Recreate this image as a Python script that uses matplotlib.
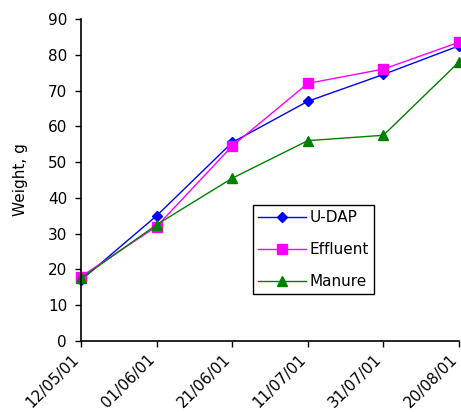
import matplotlib.pyplot as plt
from matplotlib.transforms import ScaledTranslation

plt.rcParams['font.family'] = ['DejaVu Sans']

# 采样日期与三种处理的重量
dates = ['12/05/01', '01/06/01', '21/06/01', '11/07/01', '31/07/01', '20/08/01']
udap = [17, 35, 55.5, 67, 74.5, 82.5]
effluent = [18, 32, 54.5, 72, 76, 83.5]
manure = [17.5, 32.5, 45.5, 56, 57.5, 78]

x = list(range(len(dates)))

fig = plt.figure(figsize=(4.61, 4.12), dpi=100)
ax = fig.add_axes([0.1757, 0.1723, 0.82, 0.7816])

ax.plot(x, udap, color='#0000FF', marker='D', markersize=5.5, lw=1, label='U-DAP', clip_on=False)
ax.plot(x, effluent, color='#FF00FF', marker='s', markersize=6.5, lw=1, label='Effluent', clip_on=False)
ax.plot(x, manure, color='#008000', marker='^', markersize=7, lw=1, label='Manure', clip_on=False)

ax.set_xlim(0, 5)
ax.set_ylim(0, 90)
ax.set_yticks(range(0, 91, 10))
ax.set_xticks(x)
ax.set_xticklabels(dates, rotation=45, ha='right', rotation_mode='anchor', fontsize=11)
ax.tick_params(axis='y', labelsize=11, direction='out', length=4.5, width=1, pad=5.5)
ax.tick_params(axis='x', direction='out', length=4, width=1, pad=4)
ax.set_ylabel('Weight, g', fontsize=11, labelpad=14)

# 日期标签整体左移一点
shift = ScaledTranslation(-7 / 72, 0, fig.dpi_scale_trans)
for lab in ax.get_xticklabels():
    lab.set_transform(lab.get_transform() + shift)

ax.spines['top'].set_visible(False)
ax.spines['right'].set_visible(False)
ax.spines['left'].set_linewidth(1.2)
ax.spines['bottom'].set_linewidth(1.2)

# 图例框放在图中部偏右
leg = ax.legend(loc='upper left', bbox_to_anchor=(253 / 461, 1 - 205 / 412),
                bbox_transform=fig.transFigure, borderaxespad=0, fontsize=11,
                frameon=True, fancybox=False, edgecolor='black', framealpha=1,
                handlelength=3.1, borderpad=0.35, labelspacing=1.1, handletextpad=0.25)
leg.get_frame().set_linewidth(1)

plt.savefig('out.png', dpi=100)
